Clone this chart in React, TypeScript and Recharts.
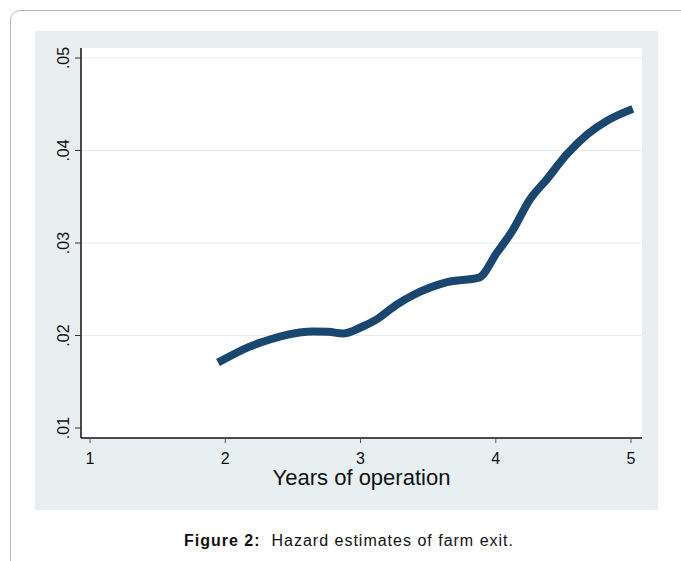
import { LineChart, Line, XAxis, YAxis, ReferenceLine } from 'recharts';

// years of operation vs hazard estimate
const years = [1.946, 2.18, 2.33, 2.55, 2.65, 2.76, 2.87, 3.0, 3.12, 3.27, 3.387, 3.64, 3.875, 4.01, 4.126, 4.252, 4.378, 4.526, 4.673, 4.821, 5.013];
const hazard = [0.01707, 0.0188, 0.01957, 0.02033, 0.02043, 0.0204, 0.02022, 0.02087, 0.02174, 0.02337, 0.02435, 0.02576, 0.02625, 0.029, 0.0314, 0.0347, 0.0369, 0.0396, 0.0417, 0.0432, 0.0445];

const xTicks = [1, 2, 3, 4, 5];
const yTicks = [0.01, 0.02, 0.03, 0.04, 0.05];
const yTickLabels = ['.01', '.02', '.03', '.04', '.05'];
const gridValues = [0.02, 0.03, 0.04, 0.05];

const data = years.map((x, i) => ({ x, y: hazard[i] }));

const FONT = '"Liberation Sans", Arial, sans-serif';

function YTick(props: any) {
  const { x, y, payload } = props;
  const idx = yTicks.indexOf(payload.value);
  return (
    <text
      x={x}
      y={y}
      transform={`rotate(-90, ${x}, ${y})`}
      textAnchor="middle"
      fontSize={16}
      fontFamily={FONT}
      fill="#111"
    >
      {idx >= 0 ? yTickLabels[idx] : payload.value}
    </text>
  );
}

function XTitle(props: any) {
  const vb = props.viewBox;
  return (
    <text
      x={vb.x + vb.width / 2}
      y={vb.y + 47}
      textAnchor="middle"
      fontSize={22}
      fontFamily={FONT}
      fill="#111"
    >
      Years of operation
    </text>
  );
}

export default function App() {
  return (
    <div style={{ position: 'absolute', left: 0, top: 0, width: 681, height: 561, overflow: 'hidden', background: '#fff' }}>
      <div
        style={{
          position: 'absolute',
          left: 10,
          top: 10,
          width: 720,
          height: 620,
          border: '1px solid #b8b8b8',
          borderRadius: 10,
        }}
      />
      <div style={{ position: 'absolute', left: 35, top: 31, width: 623, height: 479, background: '#e8eff1' }}>
        <LineChart
          width={623}
          height={479}
          data={data}
          margin={{ top: 17, right: 16, left: 0, bottom: 0 }}
        >
          <rect x={46} y={17} width={561} height={390} fill="#fff" />
          {gridValues.map(v => (
            <ReferenceLine key={v} y={v} stroke="#e4ecee" strokeWidth={1} />
          ))}
          <XAxis
            dataKey="x"
            type="number"
            domain={[0.933, 5.081]}
            ticks={xTicks}
            allowDataOverflow
            height={72}
            tickSize={5}
            tickMargin={10}
            axisLine={{ stroke: '#111', strokeWidth: 1.5 }}
            tickLine={{ stroke: '#555' }}
            tick={{ fontSize: 16, fontFamily: FONT, fill: '#111' }}
            label={<XTitle />}
          />
          <YAxis
            type="number"
            domain={[0.00892, 0.05108]}
            ticks={yTicks}
            allowDataOverflow
            width={46}
            tickSize={6}
            tickMargin={6}
            axisLine={{ stroke: '#111', strokeWidth: 1.5 }}
            tickLine={{ stroke: '#333' }}
            tick={<YTick />}
          />
          <Line
            type="monotone"
            dataKey="y"
            stroke="#1a476f"
            strokeWidth={8}
            dot={false}
            activeDot={false}
            isAnimationActive={false}
          />
        </LineChart>
      </div>
      <div
        style={{
          position: 'absolute',
          left: 149,
          top: 533,
          width: 400,
          textAlign: 'center',
          fontFamily: FONT,
          fontSize: 16,
          lineHeight: '16px',
          letterSpacing: 1,
          color: '#111',
          whiteSpace: 'pre',
        }}
      >
        <b>Figure 2:</b>{'  '}Hazard estimates of farm exit.
      </div>
    </div>
  );
}
